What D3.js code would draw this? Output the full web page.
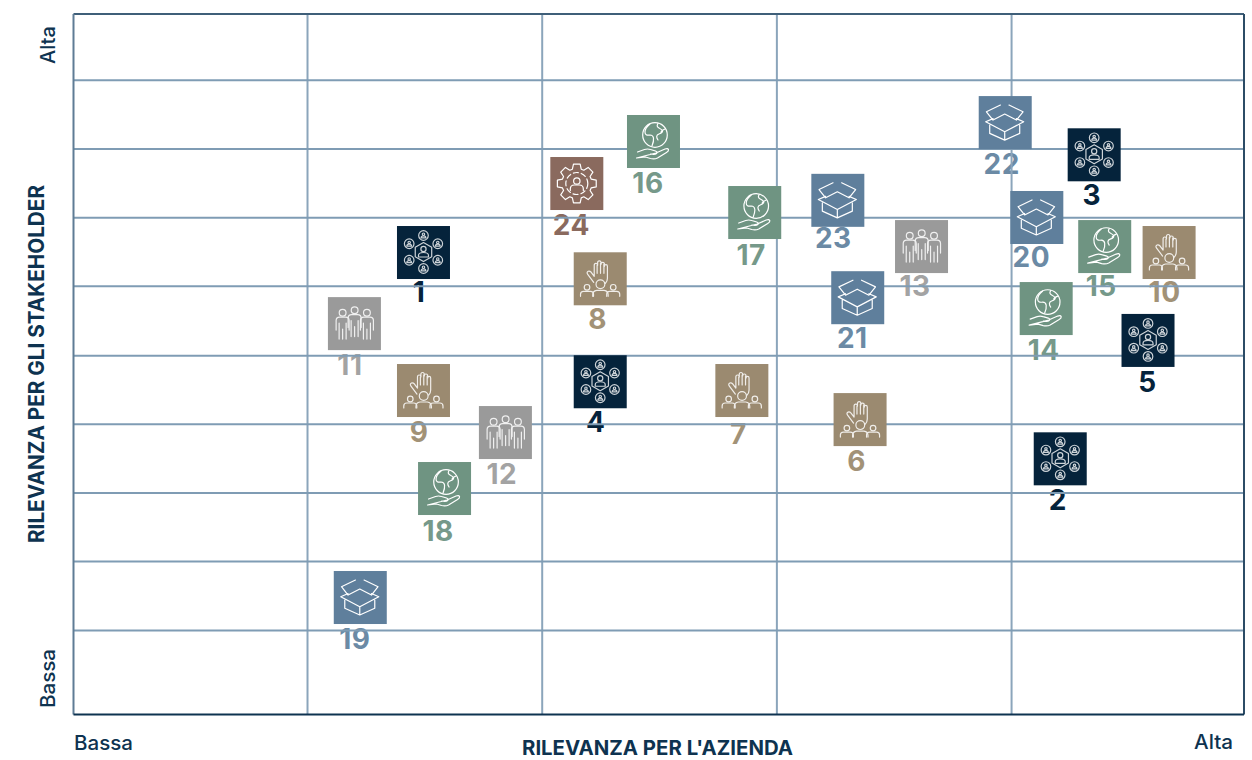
<!DOCTYPE html>
<html>
<head>
<meta charset="utf-8">
<script src="https://cdn.jsdelivr.net/npm/d3@7"></script>
<style>
  html, body { margin: 0; padding: 0; background: #fff; }
  svg { display: block; }
  .lbl { font-family: "Inter", "DejaVu Sans", sans-serif; fill: #0e3350; }
  .num { font-family: "Inter", "DejaVu Sans", sans-serif; font-weight: 700; font-size: 28px; text-anchor: middle; letter-spacing: 0.5px; }
  .icon * { fill: none; stroke: #fff; stroke-width: 1.2; stroke-linejoin: round; stroke-linecap: round; }
</style>
</head>
<body>
<div id="chart"></div>
<script>
// values, both axes 0-100
var ids = ["1","2","3","4","5","6","7","8","9","10","11","12","13","14","15","16","17","18","19","20","21","22","23","24"];
var xVals = [29.9,84.3,87.2,45.0,91.8,67.2,57.1,45.0,29.9,93.6,24.0,36.9,72.45,83.1,88.1,49.55,58.2,31.7,24.5,82.3,67.0,79.6,65.3,43.0];
var yVals = [65.95,36.5,79.9,47.5,53.4,42.1,46.25,62.2,46.25,65.95,55.8,40.25,66.8,57.95,66.8,81.8,71.66,32.26,16.7,70.95,59.5,84.5,73.4,75.8];
var kinds = ["net","net","net","net","net","hand","hand","hand","hand","hand","crowd","crowd","crowd","globe","globe","globe","globe","globe","box","box","box","box","box","gear"];

var xGrid = [19.95, 40, 60.05, 80.1];
var yGrid = [12.06, 21.9, 31.7, 41.5, 51.3, 61.2, 71, 80.8, 90.6];

var kindNames = ["net", "hand", "crowd", "globe", "box", "gear"];
var kindColors = ["#05233b", "#9b8a70", "#9a9a9a", "#6f9482", "#5f7f9c", "#8a6a5e"];
var textColors = ["#05233b", "#a29277", "#a3a3a3", "#76998a", "#6b8aa5", "#8a6a5e"];

var width = 1252, height = 760;
var x = d3.scaleLinear().domain([0, 100]).range([73.5, 1244]);
var y = d3.scaleLinear().domain([0, 100]).range([714.5, 14]);
var fill = d3.scaleOrdinal().domain(kindNames).range(kindColors);
var textFill = d3.scaleOrdinal().domain(kindNames).range(textColors);
var boxSize = 53;

var svg = d3.select("#chart").append("svg").attr("width", width).attr("height", height);

// icons, all drawn in a 53x53 box
var defs = svg.append("defs");
function symbol(name) {
    return defs.append("g").attr("id", "ic-" + name).attr("class", "icon");
}

// hexagon with six coins round it
var net = symbol("net").style("opacity", 0.8);
var hexPts = d3.range(6).map(function (i) {
    var a = Math.PI / 3 * i - Math.PI / 2;
    return [26.5 + 9.5 * Math.cos(a), 26 + 9.5 * Math.sin(a)];
});
net.append("path").attr("d", d3.line()(hexPts) + "Z");
d3.range(6).forEach(function (i) {
    var a = Math.PI / 3 * i - Math.PI / 2;
    var c = Math.cos(a), s = Math.sin(a);
    var cx = 26.5 + 16.5 * c, cy = 26 + 16.5 * s;
    net.append("circle").attr("cx", cx).attr("cy", cy).attr("r", 4.8);
    net.append("circle").attr("cx", cx).attr("cy", cy - 1.3).attr("r", 1.2);
    net.append("path").attr("d", "M" + (cx - 2.4) + " " + (cy + 2.4) + "q0-2 2.4-2t2.4 2z");
});
net.append("circle").attr("cx", 26.5).attr("cy", 23).attr("r", 2.6);
net.append("path").attr("d", "M21.5 31v-1.5q0-3 5-3t5 3v1.5z");

// three standing people
var crowd = symbol("crowd").style("opacity", 0.85);
[[14.7, 0], [26.7, -2.5], [39, 0]].forEach(function (p) {
    var g = crowd.append("g").attr("transform", "translate(" + p[0] + "," + p[1] + ")");
    g.append("circle").attr("cy", 15.7).attr("r", 3.4);
    g.append("path").attr("d", "M-6.5 33v-9.5q0-3.5 3.5-3.5h6q3.5 0 3.5 3.5v9.5M-3.5 26v16M3.5 26v16M0 32v10");
});

// raised hand over three small people
var hand = symbol("hand").style("opacity", 0.85);
hand.append("path").attr("d", "M20 30l-6-8q-1.5-2 .5-3 1.5-.5 3 1l3 4v-11q0-2 1.7-2t1.7 2v-2.5q0-2 1.7-2t1.7 2v1.5q0-2 1.7-2t1.7 2v2q0-1.7 1.5-1.7t1.5 1.7v12q0 3-2 5");
hand.append("path").attr("d", "M23.4 13v8M26.8 11v10M30.2 12v9");
hand.append("circle").attr("cx", 26.7).attr("cy", 32).attr("r", 4.4);
hand.append("path").attr("d", "M19 44v-1.5q0-4 4-4.5h7.4q4 .5 4 4.5v1.5");
[[13.3, 35], [39.5, 35]].forEach(function (p) {
    hand.append("circle").attr("cx", p[0]).attr("cy", p[1]).attr("r", 2.8);
    hand.append("path").attr("d", "M" + (p[0] - 6.5) + " 44v-2q0-3 3-3h7q3 0 3 3v2");
});

// globe held in a hand
var globe = symbol("globe");
globe.append("circle").attr("cx", 28).attr("cy", 20).attr("r", 12.3);
globe.append("path").attr("d", "M23 9q-5 4-5 8t5 3q3 0 3.5 3t-1.5 8M31 8.5q-2 3 1 4.5t3.5 3-3.5 3-1 6M38 14q-3 1-4 3");
globe.append("path").attr("d", "M10.5 37l7-2.5q3-1 6 0l5 1.5q2.5 1 1 2.5t-6 .5M29 38l9-4q3-1 3.5 .5t-2 3l-9 5.5q-3 1.5-7 .5l-5-1.5-9 1z");

// open cardboard box
var box = symbol("box").style("stroke-width", 1.4);
box.append("path").attr("d", "M21.7 9l-14 6.7 6.6 8.3 11.7-6 11.7 6 6.6-8.3-14-6.7");
box.append("path").attr("d", "M14.3 22.5l-7.3 3.2 19 10 19-10-7.3-3.2M11 29v8.3l15 6.7 15-6.7v-8.3M26 35.7v8.3");

// gear with a person inside
var gear = symbol("gear");
var teeth = [];
d3.range(8).forEach(function (i) {
    var a = Math.PI / 4 * i - Math.PI / 2;
    [[-0.3, 15], [-0.17, 19.7], [0.17, 19.7], [0.3, 15]].forEach(function (t) {
        teeth.push([26.5 + t[1] * Math.cos(a + t[0]), 26.5 + t[1] * Math.sin(a + t[0])]);
    });
});
gear.append("path").attr("d", d3.line()(teeth) + "Z");
gear.append("circle").attr("cx", 26.5).attr("cy", 26.5).attr("r", 11).attr("stroke-dasharray", "5 3");
gear.append("circle").attr("cx", 26.5).attr("cy", 24).attr("r", 3.2);
gear.append("path").attr("d", "M20 33.5v-1.5q0-4 4-4h5q4 0 4 4v1.5");

// where each number sits relative to the centre of its square
var noteDx = [-4.5,-2.5,-2.5,-4.5,-0.5,-3.5,-3.5,-2.5,-4.5,-4.5,-4.5,-3.5,-6.5,-2.5,-3.5,-5.5,-3.5,-6.5,-5.5,-5.5,-5.5,-3.5,-4.5,-5.5];
var noteDy = [49.5,51,50,50,52,51,53,50,51,49,51,51,49,51,49,52,52,52,51,50,50,51,48,51];

// number labels sit under the grid
svg.append("g").selectAll("text").data(ids).enter().append("text")
    .attr("class", "num")
    .attr("x", function (d, i) { return x(xVals[i]) + noteDx[i]; })
    .attr("y", function (d, i) { return y(yVals[i]) + noteDy[i]; })
    .attr("fill", function (d, i) { return textFill(kinds[i]); })
    .text(function (d) { return d; });

// grid, through the library's axes
var gridX = svg.append("g").attr("transform", "translate(0,714.5)")
    .call(d3.axisBottom(x).tickValues(xGrid).tickSize(-700.5).tickFormat(""));
var gridY = svg.append("g").attr("transform", "translate(73.5,0)")
    .call(d3.axisLeft(y).tickValues(yGrid).tickSize(-1170.5).tickFormat(""));
gridX.select(".domain").remove();
gridY.select(".domain").remove();
gridX.selectAll("line").attr("stroke", "#8ba5bb").attr("stroke-width", 2);
gridY.selectAll("line").attr("stroke", "#7f9cb4").attr("stroke-width", 2);

// frame
var fx0 = x(0), fx1 = x(100), fy0 = y(0), fy1 = y(100);
function edge(x1, y1, x2, y2, col, w) {
    svg.append("line").attr("x1", x1).attr("y1", y1).attr("x2", x2).attr("y2", y2)
        .attr("stroke", col).attr("stroke-width", w);
}
edge(fx0, fy1, fx1, fy1, "#3f5f79", 2);
edge(fx1, fy1, fx1, fy0, "#2c4c66", 2);
edge(fx0, fy1, fx0, fy0, "#5f7c95", 2);
edge(fx0, fy0, fx1, fy0, "#0e3350", 2);

// coloured squares with the icon on top
var marks = svg.append("g").selectAll("g").data(ids).enter().append("g")
    .attr("transform", function (d, i) {
        return "translate(" + (x(xVals[i]) - boxSize / 2) + "," + (y(yVals[i]) - boxSize / 2) + ")";
    });
marks.append("rect").attr("width", boxSize).attr("height", boxSize)
    .attr("fill", function (d, i) { return fill(kinds[i]); });
marks.append("use").attr("href", function (d, i) { return "#ic-" + kinds[i]; });

// axis texts
function label(txt, px, py, size, weight, len, rot) {
    var t = svg.append("text").attr("class", "lbl").attr("x", px).attr("y", py)
        .attr("font-size", size).attr("font-weight", weight).attr("textLength", len)
        .attr("lengthAdjust", "spacingAndGlyphs").text(txt);
    if (rot) t.attr("transform", "rotate(-90 " + px + " " + py + ")");
}
label("Bassa", 74, 750, 20, 500, 59);
label("Alta", 1194, 749, 20, 500, 39);
label("RILEVANZA PER L'AZIENDA", 522, 755, 20, 700, 271);
label("Alta", 55, 64, 20, 500, 38, true);
label("Bassa", 55, 708, 20, 500, 59, true);
label("RILEVANZA PER GLI STAKEHOLDER", 44, 543, 21, 700, 358, true);
</script>
</body>
</html>
